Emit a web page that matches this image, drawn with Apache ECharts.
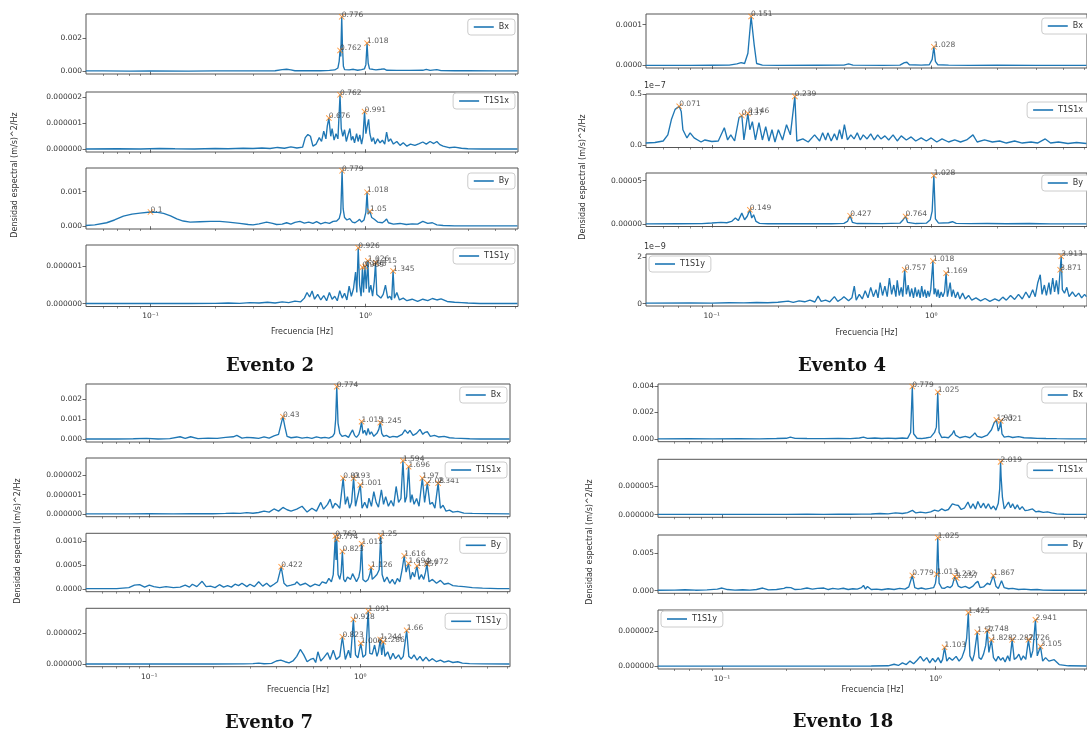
<!DOCTYPE html>
<html>
<head>
<meta charset="utf-8">
<script src="https://cdn.jsdelivr.net/npm/echarts@6/dist/echarts.min.js"></script>
<style>
  html, body { margin: 0; padding: 0; background: #fff; }
  #chart { width: 1087px; height: 737px; }
</style>
</head>
<body>
<div id="chart"></div>
<script>
// Frequency span shared by every spectrum (Hz) and the log-axis ticks
const X_MIN = 0.0501;
const X_MAX = 5.13;
const MAJOR_TICKS = [0.1, 1];
const MINOR_TICKS = [0.06, 0.07, 0.08, 0.09, 0.2, 0.3, 0.4, 0.5, 0.6, 0.7, 0.8, 0.9, 2, 3, 4, 5];
const SERIES_NAMES = ['Bx', 'T1S1x', 'By', 'T1S1y'];
const EVENT_TITLES = ['Evento 2', 'Evento 4', 'Evento 7', 'Evento 18'];

// ---------- Evento 2 ----------
// Bx, values in 1e-3 (m/s)^2/Hz
const e2Bx = [[0.05,0.02],[0.06,0.02],[0.08,0.01],[0.1,0.02],[0.15,0.01],[0.2,0.02],[0.3,0.02],[0.38,0.03],[0.41,0.1],[0.43,0.12],[0.45,0.08],[0.47,0.03],[0.55,0.04],[0.62,0.03],[0.68,0.05],[0.72,0.08],[0.745,0.2],[0.755,0.6],[0.762,1.26],[0.768,0.9],[0.776,3.3],[0.782,1.5],[0.79,0.3],[0.8,0.1],[0.84,0.08],[0.88,0.12],[0.92,0.06],[0.96,0.1],[0.99,0.15],[1.005,0.4],[1.018,1.7],[1.03,0.5],[1.045,0.15],[1.08,0.12],[1.12,0.08],[1.18,0.12],[1.22,0.15],[1.26,0.06],[1.4,0.05],[1.6,0.05],[1.85,0.06],[1.92,0.12],[2.0,0.05],[2.15,0.1],[2.25,0.04],[2.6,0.03],[3.0,0.03],[4.0,0.02],[5.1,0.02]];
const e2BxPeaks = [0.762, 0.776, 1.018];
const e2BxTicks = [0, 2];
// T1S1x, values in 1e-6
const e2T1S1x = [[0.05,0.01],[0.07,0.02],[0.09,0.01],[0.11,0.03],[0.13,0.02],[0.16,0.01],[0.2,0.03],[0.23,0.02],[0.27,0.04],[0.3,0.03],[0.33,0.05],[0.36,0.03],[0.39,0.07],[0.42,0.04],[0.45,0.09],[0.48,0.05],[0.51,0.08],[0.525,0.45],[0.54,0.57],[0.555,0.5],[0.57,0.12],[0.59,0.2],[0.61,0.45],[0.625,0.3],[0.64,0.7],[0.655,0.4],[0.665,0.9],[0.676,1.2],[0.69,0.5],[0.70,0.8],[0.715,0.35],[0.73,0.6],[0.745,0.4],[0.762,2.1],[0.772,0.8],[0.785,0.5],[0.80,0.75],[0.815,0.3],[0.83,0.55],[0.847,0.8],[0.86,0.35],[0.875,0.5],[0.89,0.25],[0.91,0.6],[0.925,0.3],[0.942,0.55],[0.96,0.2],[0.975,0.5],[0.991,1.45],[1.005,0.6],[1.02,0.9],[1.035,1.15],[1.049,0.6],[1.07,0.3],[1.09,0.45],[1.11,0.2],[1.14,0.4],[1.17,0.25],[1.2,0.35],[1.23,0.2],[1.255,0.66],[1.28,0.3],[1.31,0.4],[1.35,0.2],[1.4,0.3],[1.45,0.15],[1.5,0.25],[1.56,0.12],[1.62,0.2],[1.7,0.15],[1.78,0.22],[1.85,0.28],[1.92,0.2],[2.0,0.3],[2.08,0.22],[2.15,0.3],[2.22,0.18],[2.3,0.12],[2.45,0.06],[2.6,0.08],[2.8,0.04],[3.0,0.02],[3.5,0.01],[4.2,0.01],[5.1,0.01]];
const e2T1S1xPeaks = [0.676, 0.762, 0.991];
const e2T1S1xTicks = [0, 1, 2];
// By, values in 1e-3
const e2By = [[0.05,0.02],[0.055,0.04],[0.0625,0.1],[0.068,0.18],[0.0748,0.29],[0.082,0.35],[0.0893,0.38],[0.1,0.41],[0.108,0.4],[0.115,0.37],[0.124,0.3],[0.1325,0.21],[0.142,0.15],[0.153,0.12],[0.17,0.13],[0.19,0.14],[0.21,0.14],[0.23,0.12],[0.26,0.08],[0.285,0.05],[0.30,0.04],[0.32,0.07],[0.347,0.12],[0.37,0.08],[0.386,0.05],[0.41,0.06],[0.43,0.1],[0.45,0.06],[0.47,0.11],[0.496,0.14],[0.52,0.09],[0.545,0.12],[0.57,0.08],[0.593,0.13],[0.62,0.07],[0.65,0.11],[0.68,0.08],[0.708,0.14],[0.735,0.15],[0.755,0.22],[0.768,0.4],[0.779,1.6],[0.788,0.5],[0.80,0.25],[0.82,0.18],[0.845,0.22],[0.87,0.12],[0.895,0.1],[0.92,0.15],[0.94,0.2],[0.96,0.12],[0.985,0.18],[1.005,0.4],[1.018,0.98],[1.03,0.35],[1.05,0.43],[1.07,0.25],[1.1,0.2],[1.14,0.12],[1.2,0.1],[1.23,0.15],[1.255,0.21],[1.28,0.1],[1.35,0.06],[1.45,0.08],[1.55,0.05],[1.65,0.07],[1.75,0.06],[1.85,0.14],[1.95,0.08],[2.05,0.1],[2.15,0.04],[2.3,0.02],[2.6,0.01],[3.2,0.01],[4.0,0.01],[5.1,0.01]];
const e2ByPeaks = [0.1, 0.779, 1.018, 1.05];
const e2ByTicks = [0, 1];
// T1S1y, values in 1e-6
const e2T1S1y = [[0.05,0.005],[0.1,0.005],[0.15,0.005],[0.2,0.01],[0.23,0.02],[0.26,0.01],[0.29,0.03],[0.32,0.02],[0.35,0.04],[0.38,0.02],[0.41,0.05],[0.44,0.03],[0.47,0.07],[0.5,0.05],[0.52,0.15],[0.535,0.3],[0.55,0.18],[0.565,0.34],[0.58,0.12],[0.6,0.25],[0.62,0.1],[0.64,0.22],[0.66,0.08],[0.68,0.3],[0.70,0.12],[0.72,0.2],[0.74,0.08],[0.76,0.35],[0.78,0.15],[0.80,0.28],[0.82,0.1],[0.84,0.47],[0.86,0.2],[0.88,0.4],[0.9,0.85],[0.912,0.3],[0.926,1.5],[0.94,0.5],[0.955,0.2],[0.969,0.98],[0.98,0.3],[0.995,1.0],[1.01,0.4],[1.026,1.15],[1.04,0.3],[1.06,0.5],[1.08,0.2],[1.1,0.6],[1.115,1.1],[1.13,0.25],[1.15,0.3],[1.18,0.15],[1.21,0.25],[1.24,0.5],[1.27,0.15],[1.3,0.2],[1.325,0.1],[1.345,0.88],[1.365,0.15],[1.4,0.3],[1.44,0.1],[1.5,0.15],[1.56,0.08],[1.65,0.12],[1.75,0.06],[1.85,0.12],[1.95,0.08],[2.05,0.14],[2.15,0.1],[2.25,0.13],[2.4,0.06],[2.6,0.04],[2.8,0.03],[3.0,0.02],[3.4,0.005],[5.1,0.005]];
const e2T1S1yPeaks = [0.926, 0.969, 0.995, 1.026, 1.115, 1.345];
const e2T1S1yTicks = [0, 1];

// ---------- Evento 4 ----------
// Bx, values in 1e-4
const e4Bx = [[0.05,0.005],[0.08,0.005],[0.1,0.008],[0.12,0.01],[0.13,0.04],[0.136,0.07],[0.141,0.05],[0.146,0.3],[0.151,1.2],[0.156,0.5],[0.16,0.05],[0.17,0.01],[0.2,0.005],[0.3,0.008],[0.4,0.01],[0.42,0.04],[0.44,0.01],[0.6,0.005],[0.72,0.01],[0.755,0.07],[0.775,0.08],[0.795,0.02],[0.9,0.01],[0.98,0.02],[1.01,0.15],[1.028,0.46],[1.045,0.1],[1.07,0.02],[1.2,0.01],[1.5,0.005],[2.0,0.008],[3.0,0.005],[5.1,0.005]];
const e4BxPeaks = [0.151, 1.028];
const e4BxTicks = [0, 1];
// T1S1x, values in 1e-7
const e4T1S1x = [[0.05,0.02],[0.055,0.025],[0.06,0.04],[0.063,0.1],[0.0654,0.25],[0.068,0.35],[0.071,0.38],[0.0725,0.33],[0.0738,0.15],[0.077,0.07],[0.0796,0.12],[0.083,0.07],[0.0893,0.03],[0.093,0.05],[0.1,0.035],[0.107,0.04],[0.114,0.17],[0.118,0.05],[0.122,0.1],[0.127,0.04],[0.133,0.27],[0.137,0.29],[0.14,0.05],[0.146,0.31],[0.149,0.15],[0.153,0.23],[0.158,0.05],[0.164,0.22],[0.17,0.05],[0.176,0.18],[0.182,0.04],[0.188,0.15],[0.194,0.03],[0.201,0.15],[0.21,0.05],[0.219,0.2],[0.228,0.1],[0.239,0.477],[0.244,0.04],[0.26,0.06],[0.275,0.03],[0.294,0.1],[0.31,0.04],[0.32,0.12],[0.33,0.05],[0.338,0.12],[0.35,0.04],[0.362,0.11],[0.372,0.05],[0.382,0.15],[0.392,0.06],[0.402,0.2],[0.415,0.05],[0.43,0.1],[0.445,0.06],[0.46,0.12],[0.475,0.05],[0.49,0.1],[0.51,0.06],[0.53,0.11],[0.55,0.05],[0.57,0.1],[0.59,0.06],[0.615,0.09],[0.64,0.05],[0.67,0.1],[0.7,0.04],[0.73,0.09],[0.77,0.05],[0.81,0.08],[0.85,0.04],[0.9,0.07],[0.95,0.04],[1.0,0.07],[1.06,0.03],[1.12,0.06],[1.2,0.03],[1.28,0.05],[1.36,0.03],[1.45,0.05],[1.55,0.1],[1.62,0.03],[1.75,0.05],[1.9,0.03],[2.05,0.04],[2.2,0.02],[2.4,0.04],[2.6,0.02],[2.85,0.03],[3.05,0.02],[3.31,0.06],[3.5,0.02],[3.8,0.03],[4.2,0.015],[4.6,0.025],[5.1,0.015]];
const e4T1S1xPeaks = [0.071, 0.137, 0.146, 0.239];
const e4T1S1xTicks = [0, 0.5];
// By, values in 1e-5
const e4By = [[0.05,0.03],[0.07,0.04],[0.09,0.05],[0.1,0.12],[0.11,0.19],[0.117,0.15],[0.123,0.3],[0.128,0.69],[0.132,0.4],[0.137,1.26],[0.141,0.5],[0.145,0.9],[0.149,1.64],[0.152,0.7],[0.155,1.07],[0.159,0.3],[0.165,0.08],[0.18,0.04],[0.25,0.05],[0.35,0.04],[0.4,0.08],[0.415,0.3],[0.427,0.96],[0.437,0.2],[0.46,0.06],[0.6,0.05],[0.72,0.1],[0.745,0.5],[0.764,0.88],[0.78,0.2],[0.85,0.06],[0.95,0.1],[0.99,0.5],[1.01,1.5],[1.028,5.6],[1.045,0.6],[1.08,0.1],[1.2,0.15],[1.25,0.27],[1.3,0.08],[1.5,0.05],[1.8,0.07],[2.2,0.04],[2.8,0.06],[3.5,0.03],[5.1,0.03]];
const e4ByPeaks = [0.149, 0.427, 0.764, 1.028];
const e4ByTicks = [0, 5];
// T1S1y, values in 1e-9
const e4T1S1y = [[0.05,0.02],[0.08,0.03],[0.1,0.02],[0.12,0.04],[0.14,0.03],[0.16,0.05],[0.18,0.04],[0.2,0.06],[0.223,0.11],[0.235,0.05],[0.25,0.12],[0.265,0.08],[0.28,0.15],[0.295,0.07],[0.305,0.32],[0.315,0.1],[0.33,0.15],[0.345,0.08],[0.362,0.3],[0.375,0.1],[0.39,0.2],[0.40,0.3],[0.42,0.12],[0.435,0.25],[0.446,0.75],[0.455,0.15],[0.47,0.4],[0.485,0.2],[0.5,0.55],[0.515,0.25],[0.53,0.7],[0.545,0.3],[0.56,0.6],[0.572,0.25],[0.585,0.9],[0.6,0.35],[0.615,0.75],[0.63,0.3],[0.645,1.1],[0.66,0.4],[0.675,0.8],[0.69,0.3],[0.70,1.0],[0.715,0.35],[0.73,0.7],[0.742,0.3],[0.757,1.45],[0.77,0.4],[0.785,0.8],[0.80,0.3],[0.815,0.65],[0.83,0.25],[0.845,0.7],[0.86,0.3],[0.875,0.6],[0.89,0.25],[0.905,0.75],[0.92,0.3],[0.935,0.6],[0.95,0.25],[0.965,0.55],[0.98,0.3],[0.995,0.6],[1.018,1.83],[1.03,0.4],[1.045,0.65],[1.06,0.3],[1.075,0.6],[1.09,0.25],[1.11,0.5],[1.13,0.3],[1.15,0.5],[1.169,1.31],[1.185,0.3],[1.2,0.55],[1.22,0.9],[1.24,0.3],[1.26,0.6],[1.29,0.25],[1.32,0.5],[1.35,0.2],[1.39,0.45],[1.43,0.2],[1.48,0.35],[1.53,0.15],[1.6,0.25],[1.68,0.12],[1.76,0.22],[1.85,0.1],[1.95,0.2],[2.04,0.12],[2.12,0.28],[2.2,0.15],[2.3,0.35],[2.4,0.18],[2.5,0.4],[2.6,0.2],[2.7,0.5],[2.8,0.25],[2.9,0.6],[2.98,0.3],[3.06,0.9],[3.14,1.24],[3.2,0.4],[3.28,0.8],[3.35,0.35],[3.44,0.9],[3.5,0.4],[3.58,1.1],[3.65,0.5],[3.72,1.0],[3.8,0.4],[3.871,1.45],[3.913,2.03],[3.96,0.6],[4.05,0.45],[4.15,0.7],[4.25,0.3],[4.4,0.5],[4.55,0.3],[4.7,0.45],[4.85,0.25],[5.0,0.4],[5.1,0.3]];
const e4T1S1yPeaks = [0.757, 1.018, 1.169, 3.871, 3.913];
const e4T1S1yTicks = [0, 2];

// ---------- Evento 7 ----------
// Bx, values in 1e-3
const e7Bx = [[0.05,0.02],[0.07,0.02],[0.084,0.03],[0.097,0.05],[0.11,0.02],[0.125,0.04],[0.14,0.13],[0.148,0.05],[0.157,0.13],[0.17,0.04],[0.19,0.06],[0.21,0.05],[0.23,0.1],[0.25,0.13],[0.26,0.2],[0.275,0.06],[0.29,0.1],[0.31,0.08],[0.33,0.05],[0.35,0.12],[0.37,0.06],[0.39,0.17],[0.41,0.25],[0.42,0.7],[0.43,1.13],[0.44,0.6],[0.45,0.15],[0.47,0.08],[0.5,0.12],[0.53,0.06],[0.56,0.1],[0.59,0.05],[0.62,0.12],[0.65,0.07],[0.68,0.1],[0.71,0.06],[0.74,0.15],[0.755,0.3],[0.765,1.0],[0.774,2.63],[0.785,0.8],[0.80,0.3],[0.82,0.15],[0.85,0.2],[0.88,0.1],[0.9,0.3],[0.92,0.47],[0.94,0.2],[0.96,0.1],[0.985,0.25],[1.0,0.5],[1.015,0.88],[1.03,0.3],[1.05,0.45],[1.07,0.2],[1.09,0.55],[1.11,0.25],[1.13,0.38],[1.16,0.15],[1.2,0.3],[1.225,0.5],[1.245,0.83],[1.265,0.3],[1.29,0.15],[1.33,0.2],[1.38,0.1],[1.43,0.15],[1.5,0.12],[1.58,0.25],[1.63,0.47],[1.68,0.3],[1.72,0.45],[1.78,0.2],[1.85,0.3],[1.92,0.5],[1.98,0.25],[2.03,0.35],[2.08,0.38],[2.15,0.15],[2.25,0.2],[2.35,0.12],[2.5,0.15],[2.65,0.08],[2.8,0.06],[3.0,0.05],[3.3,0.03],[3.7,0.02],[4.5,0.02],[5.1,0.02]];
const e7BxPeaks = [0.43, 0.774, 1.015, 1.245];
const e7BxTicks = [0, 1, 2];
// T1S1x, values in 1e-6
const e7T1S1x = [[0.05,0.01],[0.08,0.01],[0.1,0.02],[0.13,0.01],[0.16,0.02],[0.2,0.015],[0.23,0.03],[0.25,0.05],[0.27,0.03],[0.29,0.07],[0.31,0.04],[0.33,0.08],[0.35,0.15],[0.37,0.1],[0.39,0.26],[0.41,0.15],[0.43,0.34],[0.45,0.22],[0.47,0.15],[0.5,0.25],[0.53,0.4],[0.56,0.1],[0.59,0.3],[0.62,0.15],[0.65,0.6],[0.67,0.25],[0.70,0.5],[0.72,0.77],[0.74,0.3],[0.76,0.55],[0.78,0.45],[0.80,0.3],[0.83,1.85],[0.85,0.5],[0.87,0.9],[0.89,0.3],[0.91,0.6],[0.93,1.85],[0.95,0.4],[0.97,0.3],[1.001,1.5],[1.02,0.3],[1.05,0.6],[1.08,0.3],[1.1,0.82],[1.13,0.4],[1.16,1.16],[1.19,0.6],[1.22,0.35],[1.26,1.25],[1.29,0.5],[1.32,0.9],[1.36,0.4],[1.4,0.7],[1.44,0.4],[1.48,1.42],[1.52,0.6],[1.56,0.8],[1.594,2.75],[1.63,0.6],[1.66,0.9],[1.696,2.44],[1.73,0.6],[1.76,1.0],[1.8,0.5],[1.85,0.8],[1.9,0.4],[1.97,1.85],[2.02,0.6],[2.08,1.59],[2.14,0.5],[2.2,0.6],[2.26,0.3],[2.341,1.59],[2.4,0.3],[2.47,0.45],[2.55,0.15],[2.65,0.2],[2.75,0.1],[2.9,0.14],[3.1,0.05],[3.4,0.03],[4.0,0.02],[5.1,0.01]];
const e7T1S1xPeaks = [0.83, 0.93, 1.001, 1.594, 1.696, 1.97, 2.08, 2.341];
const e7T1S1xTicks = [0, 1, 2];
// By, values in 1e-3
const e7By = [[0.05,0.01],[0.07,0.01],[0.08,0.03],[0.085,0.08],[0.09,0.09],[0.095,0.04],[0.1,0.08],[0.105,0.05],[0.112,0.03],[0.12,0.05],[0.13,0.03],[0.14,0.04],[0.148,0.08],[0.155,0.04],[0.16,0.1],[0.168,0.05],[0.178,0.16],[0.186,0.05],[0.195,0.06],[0.205,0.03],[0.215,0.09],[0.225,0.04],[0.235,0.07],[0.245,0.04],[0.255,0.1],[0.265,0.07],[0.275,0.12],[0.29,0.05],[0.3,0.1],[0.315,0.05],[0.33,0.15],[0.345,0.06],[0.36,0.12],[0.375,0.05],[0.39,0.1],[0.405,0.15],[0.422,0.46],[0.435,0.12],[0.45,0.06],[0.47,0.08],[0.49,0.1],[0.5,0.15],[0.52,0.08],[0.55,0.12],[0.58,0.05],[0.61,0.1],[0.64,0.07],[0.66,0.15],[0.69,0.12],[0.71,0.22],[0.73,0.15],[0.745,0.3],[0.762,1.1],[0.768,0.6],[0.774,1.03],[0.785,0.3],[0.80,0.2],[0.812,0.35],[0.823,0.78],[0.835,0.2],[0.85,0.15],[0.87,0.25],[0.9,0.2],[0.92,0.32],[0.94,0.28],[0.96,0.15],[0.985,0.25],[1.0,0.4],[1.015,0.94],[1.03,0.2],[1.06,0.15],[1.09,0.2],[1.11,0.3],[1.126,0.45],[1.14,0.2],[1.17,0.25],[1.2,0.3],[1.23,0.4],[1.25,1.1],[1.27,0.3],[1.3,0.15],[1.34,0.25],[1.38,0.12],[1.42,0.2],[1.46,0.1],[1.5,0.22],[1.54,0.15],[1.58,0.4],[1.616,0.69],[1.65,0.35],[1.694,0.53],[1.73,0.2],[1.77,0.35],[1.81,0.25],[1.857,0.48],[1.9,0.2],[1.95,0.3],[2.0,0.2],[2.04,0.35],[2.072,0.52],[2.12,0.15],[2.2,0.2],[2.3,0.12],[2.4,0.18],[2.5,0.1],[2.62,0.12],[2.75,0.07],[2.9,0.06],[3.1,0.05],[3.4,0.03],[3.8,0.02],[4.5,0.01],[5.1,0.01]];
const e7ByPeaks = [0.422, 0.762, 0.774, 0.823, 1.015, 1.126, 1.25, 1.616, 1.694, 1.857, 2.072];
const e7ByTicks = [0, 0.5, 1];
// T1S1y, values in 1e-6
const e7T1S1y = [[0.05,0.005],[0.1,0.005],[0.2,0.005],[0.28,0.01],[0.31,0.03],[0.33,0.06],[0.35,0.02],[0.38,0.04],[0.4,0.2],[0.42,0.26],[0.44,0.15],[0.46,0.08],[0.48,0.2],[0.5,0.5],[0.52,0.95],[0.54,0.6],[0.56,0.15],[0.58,0.3],[0.6,0.37],[0.615,0.1],[0.63,0.8],[0.65,0.2],[0.67,0.4],[0.70,0.74],[0.72,0.3],[0.745,0.9],[0.77,0.3],[0.8,0.5],[0.823,1.78],[0.85,0.3],[0.88,0.9],[0.9,0.4],[0.928,2.91],[0.95,0.6],[0.975,0.4],[1.006,1.35],[1.03,0.45],[1.06,0.6],[1.091,3.46],[1.11,0.7],[1.14,0.65],[1.17,1.24],[1.2,0.5],[1.22,0.8],[1.244,1.6],[1.265,0.6],[1.286,1.45],[1.31,0.5],[1.35,0.8],[1.39,0.3],[1.43,0.7],[1.47,0.35],[1.52,0.6],[1.56,0.3],[1.6,0.5],[1.66,2.2],[1.7,0.5],[1.75,0.35],[1.8,0.6],[1.86,0.25],[1.92,0.5],[1.98,0.2],[2.05,0.45],[2.12,0.2],[2.2,0.35],[2.3,0.15],[2.4,0.25],[2.5,0.12],[2.62,0.2],[2.75,0.1],[2.9,0.15],[3.05,0.06],[3.3,0.03],[3.8,0.01],[5.1,0.005]];
const e7T1S1yPeaks = [0.823, 0.928, 1.006, 1.091, 1.244, 1.286, 1.66];
const e7T1S1yTicks = [0, 2];

// ---------- Evento 18 ----------
// Bx, values in 1e-3
const e18Bx = [[0.05,0.02],[0.07,0.03],[0.09,0.02],[0.12,0.03],[0.15,0.02],[0.18,0.04],[0.2,0.06],[0.209,0.15],[0.22,0.05],[0.25,0.04],[0.3,0.03],[0.35,0.05],[0.4,0.03],[0.44,0.08],[0.46,0.15],[0.48,0.05],[0.52,0.08],[0.56,0.04],[0.6,0.07],[0.65,0.04],[0.7,0.08],[0.74,0.05],[0.765,0.5],[0.779,3.95],[0.79,0.4],[0.82,0.06],[0.86,0.04],[0.9,0.08],[0.95,0.15],[0.99,0.5],[1.01,0.9],[1.025,3.53],[1.04,0.5],[1.07,0.12],[1.1,0.15],[1.15,0.1],[1.2,0.4],[1.22,0.64],[1.24,0.3],[1.3,0.1],[1.38,0.2],[1.45,0.1],[1.5,0.3],[1.53,0.47],[1.57,0.2],[1.65,0.12],[1.75,0.3],[1.83,0.7],[1.88,1.2],[1.93,1.45],[1.97,0.6],[2.0,0.9],[2.021,1.37],[2.05,0.4],[2.1,0.15],[2.2,0.2],[2.3,0.12],[2.45,0.18],[2.6,0.1],[2.8,0.08],[3.0,0.05],[3.3,0.04],[3.7,0.03],[4.3,0.02],[5.1,0.02]];
const e18BxPeaks = [0.779, 1.025, 1.93, 2.021];
const e18BxTicks = [0, 2, 4];
// T1S1x, values in 1e-6
const e18T1S1x = [[0.05,0.05],[0.1,0.05],[0.15,0.06],[0.2,0.05],[0.25,0.07],[0.3,0.06],[0.35,0.08],[0.4,0.07],[0.45,0.1],[0.5,0.12],[0.55,0.2],[0.6,0.15],[0.65,0.3],[0.7,0.2],[0.74,0.35],[0.78,0.74],[0.81,0.3],[0.85,0.45],[0.9,0.3],[0.95,0.5],[0.99,0.8],[1.03,0.6],[1.07,1.0],[1.11,0.7],[1.15,0.9],[1.2,1.9],[1.24,1.7],[1.28,1.6],[1.32,0.9],[1.37,1.2],[1.42,2.2],[1.46,1.1],[1.5,1.9],[1.54,1.0],[1.58,2.3],[1.63,1.2],[1.68,2.0],[1.72,1.1],[1.77,1.9],[1.82,1.0],[1.87,1.5],[1.92,0.8],[1.97,2.0],[2.0,4.5],[2.019,9.2],[2.03,6.7],[2.06,3.0],[2.1,1.0],[2.15,1.6],[2.2,2.2],[2.25,1.2],[2.3,1.9],[2.36,1.0],[2.42,1.7],[2.48,0.9],[2.55,1.4],[2.63,0.7],[2.72,0.8],[2.85,1.0],[2.95,0.5],[3.05,0.6],[3.2,0.4],[3.35,0.5],[3.5,0.3],[3.7,0.15],[4.0,0.08],[4.5,0.06],[5.1,0.05]];
const e18T1S1xPeaks = [2.019];
const e18T1S1xTicks = [0, 5];
// By, values in 1e-3
const e18By = [[0.05,0.05],[0.06,0.08],[0.067,0.12],[0.075,0.06],[0.085,0.1],[0.095,0.2],[0.1,0.35],[0.106,0.15],[0.115,0.08],[0.125,0.12],[0.135,0.07],[0.145,0.15],[0.155,0.35],[0.165,0.1],[0.18,0.15],[0.195,0.3],[0.2,0.44],[0.21,0.4],[0.22,0.15],[0.235,0.2],[0.25,0.35],[0.265,0.2],[0.28,0.3],[0.3,0.35],[0.315,0.15],[0.33,0.3],[0.35,0.2],[0.37,0.32],[0.39,0.15],[0.41,0.25],[0.43,0.2],[0.45,0.4],[0.46,0.7],[0.47,0.2],[0.48,0.55],[0.5,0.15],[0.53,0.2],[0.56,0.12],[0.6,0.25],[0.64,0.15],[0.68,0.3],[0.72,0.2],[0.75,0.5],[0.779,2.03],[0.8,0.4],[0.83,0.25],[0.86,0.35],[0.9,0.2],[0.94,0.3],[0.98,0.4],[1.0,1.0],[1.013,2.2],[1.025,7.07],[1.04,1.0],[1.07,0.35],[1.1,0.3],[1.14,0.55],[1.17,0.4],[1.2,0.7],[1.232,1.9],[1.257,1.68],[1.28,0.6],[1.32,0.4],[1.38,0.57],[1.44,0.3],[1.5,0.6],[1.54,1.0],[1.58,1.24],[1.62,0.4],[1.68,0.5],[1.75,1.0],[1.8,0.8],[1.867,2.03],[1.92,0.6],[1.97,0.3],[2.04,1.33],[2.1,0.4],[2.2,0.25],[2.3,0.3],[2.45,0.15],[2.6,0.2],[2.8,0.12],[3.0,0.15],[3.2,0.08],[3.6,0.06],[4.2,0.05],[5.1,0.05]];
const e18ByPeaks = [0.779, 1.013, 1.025, 1.232, 1.257, 1.867];
const e18ByTicks = [0, 5];
// T1S1y, values in 1e-6
const e18T1S1y = [[0.05,0.01],[0.1,0.01],[0.2,0.01],[0.3,0.01],[0.4,0.015],[0.5,0.02],[0.6,0.03],[0.64,0.12],[0.67,0.05],[0.7,0.2],[0.73,0.1],[0.76,0.3],[0.79,0.15],[0.82,0.35],[0.85,0.57],[0.88,0.3],[0.91,0.5],[0.94,0.2],[0.97,0.45],[1.0,0.25],[1.03,0.5],[1.06,0.2],[1.08,0.4],[1.103,1.09],[1.13,0.3],[1.16,0.5],[1.2,0.35],[1.25,0.57],[1.29,0.3],[1.33,0.5],[1.37,0.95],[1.4,1.6],[1.425,3.08],[1.45,0.6],[1.49,0.3],[1.52,0.7],[1.57,1.96],[1.6,0.5],[1.64,0.4],[1.68,0.7],[1.72,1.2],[1.748,2.04],[1.78,0.8],[1.828,1.52],[1.87,0.5],[1.92,0.3],[1.97,0.57],[2.02,0.35],[2.07,0.5],[2.12,0.25],[2.18,0.6],[2.23,0.3],[2.287,1.52],[2.34,0.4],[2.4,0.5],[2.46,0.7],[2.52,0.35],[2.58,0.6],[2.65,0.4],[2.726,1.52],[2.8,0.5],[2.86,0.9],[2.941,2.67],[3.0,0.6],[3.05,0.5],[3.105,1.14],[3.18,0.3],[3.28,0.5],[3.4,0.3],[3.6,0.38],[3.8,0.1],[4.2,0.03],[5.1,0.02]];
const e18T1S1yPeaks = [1.103, 1.425, 1.57, 1.748, 1.828, 2.287, 2.726, 2.941, 3.105];
const e18T1S1yTicks = [0, 2];

// ---------- figure layout ----------
const BLUE = '#1f77b4';
const ORANGE = '#ff7f0e';
const TEXT = '#333';
const FONT = '"DejaVu Sans", Arial, sans-serif';
const W = 1087;
const X_MARKER = 'path://M0,1L1,0L5,4L9,0L10,1L6,5L10,9L9,10L5,6L1,10L0,9L4,5Z';
const SUP = { '-': '\u207B', '0': '\u2070', '1': '\u00B9', '2': '\u00B2', '3': '\u00B3' };

function powerLabel(v) {
  const e = String(Math.round(Math.log10(v)));
  return '10' + e.split('').map(c => SUP[c]).join('');
}

const panels = [
  { title: EVENT_TITLES[0], tx: 270, ty: 366, left: 86, width: 432, yl: [15, 175], nameGap: 21,
    rows: [
      { data: e2Bx, peaks: e2BxPeaks, ticks: e2BxTicks, unit: 1e-3, dec: 3, top: 14, h: 60, ldy: 5 },
      { data: e2T1S1x, peaks: e2T1S1xPeaks, ticks: e2T1S1xTicks, unit: 1e-6, dec: 6, top: 92, h: 60, ldy: 1 },
      { data: e2By, peaks: e2ByPeaks, ticks: e2ByTicks, unit: 1e-3, dec: 3, top: 168, h: 61, ldy: 5 },
      { data: e2T1S1y, peaks: e2T1S1yPeaks, ticks: e2T1S1yTicks, unit: 1e-6, dec: 6, top: 245, h: 61.5, ldy: 3 }
    ] },
  { title: EVENT_TITLES[1], tx: 842, ty: 366, left: 646, width: 446, yl: [583, 177], nameGap: 23,
    rows: [
      { data: e4Bx, peaks: e4BxPeaks, ticks: e4BxTicks, unit: 1e-4, dec: 4, top: 14, h: 54, ldy: 4 },
      { data: e4T1S1x, peaks: e4T1S1xPeaks, ticks: e4T1S1xTicks, unit: 1, dec: 1, offset: '1e\u22127', top: 94, h: 53.5, ldy: 8 },
      { data: e4By, peaks: e4ByPeaks, ticks: e4ByTicks, unit: 1e-5, dec: 5, top: 173, h: 53.5, ldy: 2 },
      { data: e4T1S1y, peaks: e4T1S1yPeaks, ticks: e4T1S1yTicks, unit: 1, dec: 0, offset: '1e\u22129', top: 254, h: 52, ldy: 2, legendLeft: true }
    ] },
  { title: EVENT_TITLES[2], tx: 269, ty: 723, left: 86, width: 424, yl: [18, 541], nameGap: 19,
    rows: [
      { data: e7Bx, peaks: e7BxPeaks, ticks: e7BxTicks, unit: 1e-3, dec: 3, top: 384, h: 58, ldy: 3 },
      { data: e7T1S1x, peaks: e7T1S1xPeaks, ticks: e7T1S1xTicks, unit: 1e-6, dec: 6, top: 458, h: 58.7, ldy: 4 },
      { data: e7By, peaks: e7ByPeaks, ticks: e7ByTicks, unit: 1e-3, dec: 4, top: 533.3, h: 58.4, ldy: 4 },
      { data: e7T1S1y, peaks: e7T1S1yPeaks, ticks: e7T1S1yTicks, unit: 1e-6, dec: 6, top: 608.3, h: 58.4, ldy: 5 }
    ] },
  { title: EVENT_TITLES[3], tx: 843, ty: 722, left: 658, width: 434, yl: [590, 542], nameGap: 17,
    rows: [
      { data: e18Bx, peaks: e18BxPeaks, ticks: e18BxTicks, unit: 1e-3, dec: 3, top: 384, h: 57.7, ldy: 3 },
      { data: e18T1S1x, peaks: e18T1S1xPeaks, ticks: e18T1S1xTicks, unit: 1e-6, dec: 6, top: 459.3, h: 58, ldy: 3 },
      { data: e18By, peaks: e18ByPeaks, ticks: e18ByTicks, unit: 1e-3, dec: 3, top: 535, h: 58.3, ldy: 2 },
      { data: e18T1S1y, peaks: e18T1S1yPeaks, ticks: e18T1S1yTicks, unit: 1e-6, dec: 6, top: 610, h: 59, ldy: 1, legendLeft: true }
    ] }
];

const option = {
  animation: false,
  backgroundColor: '#fff',
  grid: [], xAxis: [], yAxis: [], series: [], legend: [], graphic: []
};

panels.forEach(p => {
  option.graphic.push({
    type: 'text', x: p.tx, y: p.ty, z: 10,
    style: { text: p.title, font: 'bold 18px "DejaVu Serif", serif', fill: '#111',
             textAlign: 'center', textVerticalAlign: 'middle' }
  });
  option.graphic.push({
    type: 'text', x: p.yl[0], y: p.yl[1], rotation: Math.PI / 2, z: 10,
    style: { text: 'Densidad espectral (m/s)^2/Hz', font: '8px "DejaVu Sans"', fill: TEXT,
             textAlign: 'center', textVerticalAlign: 'middle' }
  });

  p.rows.forEach((r, k) => {
    const g = option.grid.length;
    const name = SERIES_NAMES[k];
    const isBottom = k === p.rows.length - 1;
    const peak = Math.max.apply(null, r.data.map(d => d[1]));

    option.grid.push({
      left: p.left, width: p.width, top: r.top, height: r.h,
      show: true, borderColor: '#555', borderWidth: 1, backgroundColor: 'transparent'
    });

    // log frequency axis: decades with labels, plus an unlabeled one for the minor ticks
    option.xAxis.push({
      type: 'log', logBase: 10, gridIndex: g, min: X_MIN, max: X_MAX, position: 'bottom',
      axisLine: { show: false }, splitLine: { show: false },
      axisTick: { show: true, customValues: MAJOR_TICKS, length: 3.5, lineStyle: { color: '#444', width: 0.8 } },
      axisLabel: { show: isBottom, customValues: MAJOR_TICKS, formatter: powerLabel,
                   fontSize: 7.5, fontFamily: FONT, color: TEXT, margin: 6 },
      name: isBottom ? 'Frecuencia [Hz]' : '', nameLocation: 'middle', nameGap: p.nameGap,
      nameTextStyle: { fontSize: 8, fontFamily: FONT, color: TEXT }
    });
    option.xAxis.push({
      type: 'log', logBase: 10, gridIndex: g, min: X_MIN, max: X_MAX, position: 'bottom',
      axisLine: { show: false }, splitLine: { show: false }, axisLabel: { show: false },
      axisTick: { show: true, customValues: MINOR_TICKS, length: 2, lineStyle: { color: '#444', width: 0.6 } }
    });

    option.yAxis.push({
      type: 'value', gridIndex: g, min: -0.05 * peak, max: 1.05 * peak,
      axisLine: { show: false }, splitLine: { show: false },
      axisTick: { show: true, customValues: r.ticks, length: 3.5, lineStyle: { color: '#444', width: 0.8 } },
      axisLabel: { customValues: r.ticks, formatter: v => (v * r.unit).toFixed(r.dec),
                   fontSize: 7.5, fontFamily: FONT, color: TEXT, margin: 4 },
      name: r.offset || '', nameLocation: 'end', nameGap: 3,
      nameTextStyle: { fontSize: 8, fontFamily: FONT, color: TEXT, align: 'left', verticalAlign: 'bottom', padding: [0, 0, 0, -2] }
    });

    option.series.push({
      type: 'line', name: name, xAxisIndex: 2 * g, yAxisIndex: g, data: r.data,
      symbol: 'none', showSymbol: false, z: 2,
      lineStyle: { color: BLUE, width: 1.35 }, itemStyle: { color: BLUE }
    });

    option.series.push({
      type: 'scatter', name: 'picos', xAxisIndex: 2 * g, yAxisIndex: g, z: 3,
      symbol: X_MARKER, symbolSize: 6, itemStyle: { color: ORANGE },
      data: r.peaks.map(f => ({ name: String(f), value: r.data.find(d => d[0] === f) })),
      label: { show: true, formatter: '{b}', position: 'right', distance: 0, offset: [-3, -2],
               fontSize: 7.5, fontFamily: FONT, color: TEXT }
    });

    // legend box with a plain line sample
    const leg = {
      data: [name], top: r.top + r.ldy, orient: 'horizontal', selectedMode: false,
      icon: 'rect', itemWidth: 20, itemHeight: 1.6, padding: [4, 6, 4, 6],
      backgroundColor: '#fff', borderColor: '#ccc', borderWidth: 1, borderRadius: 3,
      textStyle: { fontSize: 8, fontFamily: FONT, color: TEXT }, z: 6
    };
    if (r.legendLeft) leg.left = p.left + 3;
    else leg.right = W - (p.left + p.width) + 3;
    option.legend.push(leg);
  });
});

const chart = echarts.init(document.getElementById('chart'), null, { renderer: 'canvas' });
chart.setOption(option);
</script>
</body>
</html>
